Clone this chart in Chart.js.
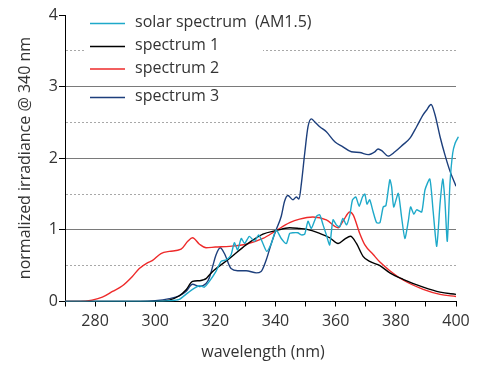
<!DOCTYPE html>
<html>
<head>
<meta charset="utf-8">
<script src="https://cdn.jsdelivr.net/npm/chart.js@4/dist/chart.umd.min.js"></script>
<style>
  body { margin: 0; background: #fff; }
  #wrap { width: 484px; height: 365px; }
</style>
</head>
<body>
<div id="wrap"><canvas id="spectraChart"></canvas></div>
<script>
// solar spectrum (AM1.5)
const solarNm = [270, 290, 300, 305, 308, 310.2, 312.4, 314.7, 316.3, 318, 320.2, 321.9, 323.6, 325.2, 326.3, 327.4, 328.6, 329.7, 331.3, 333, 334.4, 335.8, 337.1, 338.6, 340.2, 341.9, 343.6, 344.7, 345.8, 347.4, 348.6, 349.7, 350.8, 351.9, 353.6, 354.7, 355.8, 356.9, 358, 359.1, 360.2, 361.3, 362.4, 363.6, 364.7, 365.6, 366.7, 367.8, 368.9, 369.7, 370.4, 371.3, 372.4, 373.6, 374.7, 375.8, 376.7, 378, 378.6, 379.3, 380.8, 381.9, 383, 384.1, 384.9, 386, 386.9, 388.6, 389.7, 391.3, 392.4, 393.6, 394.7, 395.6, 396.3, 397.1, 398, 398.9, 399.7, 400.8];
const solarVal = [0, 0, 0, 0.01, 0.03, 0.10, 0.17, 0.22, 0.20, 0.28, 0.42, 0.56, 0.58, 0.65, 0.82, 0.72, 0.88, 0.81, 0.91, 0.84, 0.93, 0.81, 0.70, 0.81, 1.0, 0.88, 0.81, 0.95, 0.96, 0.96, 0.93, 0.94, 1.12, 1.02, 1.19, 1.21, 1.07, 0.93, 0.79, 1.14, 1.07, 1.04, 1.16, 1.07, 1.21, 1.42, 1.46, 1.33, 1.46, 1.50, 1.36, 1.42, 1.26, 1.10, 1.10, 1.32, 1.34, 1.70, 1.60, 1.32, 1.51, 1.18, 0.88, 1.11, 1.32, 1.22, 1.28, 1.25, 1.56, 1.71, 1.26, 0.77, 1.37, 1.71, 1.42, 0.84, 1.65, 2.07, 2.21, 2.30];

// spectrum 1
const spec1Nm = [270, 300, 304.7, 308, 310.2, 312.4, 314.7, 315.8, 316.9, 318, 319.1, 324.7, 330.2, 335.8, 340.2, 344.7, 348, 350.2, 354.7, 358, 360.8, 363, 364.9, 366.9, 369.1, 371.3, 374.7, 378, 382.4, 389.1, 394.7, 400];
const spec1Val = [0, 0, 0.02, 0.08, 0.16, 0.28, 0.29, 0.30, 0.32, 0.37, 0.42, 0.60, 0.79, 0.94, 0.99, 1.03, 1.02, 1.01, 0.95, 0.89, 0.81, 0.87, 0.91, 0.81, 0.63, 0.56, 0.50, 0.40, 0.31, 0.20, 0.13, 0.10];

// spectrum 2
const spec2Nm = [270, 275, 279, 282.4, 285.8, 289.1, 292.4, 294.7, 297.4, 299, 301.9, 304.7, 308.6, 310.8, 312.4, 314.7, 316.9, 320, 324.7, 330.2, 335.8, 340.2, 344.7, 348, 352.4, 356.9, 360.8, 362.4, 364.7, 365.8, 368, 369.7, 372.4, 374.7, 378, 382.4, 389.1, 394.7, 400];
const spec2Val = [0, 0, 0.02, 0.06, 0.14, 0.22, 0.35, 0.46, 0.54, 0.57, 0.67, 0.70, 0.73, 0.84, 0.89, 0.80, 0.75, 0.76, 0.77, 0.80, 0.88, 0.99, 1.10, 1.15, 1.18, 1.14, 1.03, 1.12, 1.25, 1.21, 0.95, 0.79, 0.66, 0.55, 0.43, 0.30, 0.17, 0.10, 0.07];

// spectrum 3
const spec3Nm = [270, 295, 300, 304.7, 308, 310.2, 312.4, 314.7, 316.9, 318, 319.1, 320.2, 321.6, 323, 325.2, 327.4, 330.2, 333.6, 335.2, 336.9, 338.6, 340.2, 341.9, 343, 344.1, 345.8, 346.9, 347.8, 348.6, 349.7, 350.8, 351.9, 353, 354.7, 356.9, 359.7, 362.4, 365.2, 368, 370.8, 373, 374.1, 375.5, 377.4, 379.7, 382.4, 384.7, 386.9, 389.1, 390.2, 391.7, 393, 394.7, 396.3, 398, 400];
const spec3Val = [0, 0, 0.01, 0.04, 0.08, 0.14, 0.24, 0.21, 0.25, 0.33, 0.49, 0.65, 0.75, 0.67, 0.46, 0.43, 0.43, 0.40, 0.42, 0.58, 0.81, 1.0, 1.19, 1.40, 1.48, 1.42, 1.46, 1.43, 1.65, 2.07, 2.44, 2.55, 2.51, 2.44, 2.37, 2.23, 2.16, 2.09, 2.08, 2.05, 2.09, 2.13, 2.10, 2.03, 2.09, 2.19, 2.28, 2.44, 2.61, 2.67, 2.75, 2.61, 2.30, 2.05, 1.82, 1.61];

const legendLabels = ['solar spectrum  (AM1.5)', 'spectrum 1', 'spectrum 2', 'spectrum 3'];
const seriesColors = ['#1ea9c9', '#000000', '#ee2a2a', '#1d3f7c'];

const FONT = "'Open Sans', 'Noto Sans', sans-serif";

function toPoints(xs, ys) {
    return xs.map((x, i) => ({ x: x, y: ys[i] }));
}

// legend + axis titles drawn on top
const overlayPlugin = {
    id: 'overlay',
    afterDraw(chart) {
        const ctx = chart.ctx;
        ctx.save();
        // legend box hides the dotted grid line behind it
        ctx.fillStyle = '#fff';
        ctx.fillRect(84, 40, 179, 15);

        const rowsY = [23.5, 46.5, 69, 97.5];
        ctx.font = '16px ' + FONT;
        ctx.textBaseline = 'middle';
        legendLabels.forEach((label, i) => {
            ctx.strokeStyle = seriesColors[i];
            ctx.lineWidth = 1.3;
            ctx.beginPath();
            ctx.moveTo(90, rowsY[i]);
            ctx.lineTo(125, rowsY[i]);
            ctx.stroke();
            ctx.fillStyle = '#333';
            ctx.textAlign = 'left';
            ctx.fillText(label, 135, rowsY[i] - 1);
        });

        // axis titles
        ctx.fillStyle = '#333';
        ctx.textAlign = 'center';
        ctx.fillText('wavelength (nm)', 263, 352);
        ctx.translate(25, 158);
        ctx.rotate(-Math.PI / 2);
        ctx.fillText('normalized irradiance @ 340 nm', 0, 0);
        ctx.restore();
    }
};

const ctx = document.getElementById('spectraChart').getContext('2d');

new Chart(ctx, {
    type: 'line',
    data: {
        datasets: [
            { label: legendLabels[0], data: toPoints(solarNm, solarVal), borderColor: seriesColors[0], tension: 0.2, clip: { left: 0, top: 0, right: 6, bottom: 0 } },
            { label: legendLabels[1], data: toPoints(spec1Nm, spec1Val), borderColor: seriesColors[1], cubicInterpolationMode: 'monotone' },
            { label: legendLabels[2], data: toPoints(spec2Nm, spec2Val), borderColor: seriesColors[2], cubicInterpolationMode: 'monotone' },
            { label: legendLabels[3], data: toPoints(spec3Nm, spec3Val), borderColor: seriesColors[3], cubicInterpolationMode: 'monotone' }
        ]
    },
    options: {
        responsive: true,
        maintainAspectRatio: false,
        animation: false,
        elements: {
            point: { radius: 0 },
            line: { borderWidth: 1.4, fill: false }
        },
        layout: { padding: { left: 0, right: 28, top: 15, bottom: 0 } },
        plugins: {
            legend: { display: false },
            tooltip: { enabled: false }
        },
        scales: {
            x: {
                type: 'linear',
                min: 270,
                max: 400,
                afterFit: (scale) => { scale.height = 63.5; },
                ticks: {
                    stepSize: 10,
                    autoSkip: false,
                    maxRotation: 0,
                    padding: 5,
                    color: '#333',
                    font: { family: FONT, size: 16 },
                    callback: (v) => (v % 20 === 0 ? String(v) : '')
                },
                grid: {
                    drawOnChartArea: false,
                    tickLength: 5,
                    tickColor: '#000'
                },
                border: { color: '#000', width: 1 }
            },
            y: {
                min: 0,
                max: 4,
                afterFit: (scale) => { scale.width = 65; },
                ticks: {
                    stepSize: 0.5,
                    autoSkip: false,
                    padding: 1,
                    color: '#333',
                    font: { family: FONT, size: 16 },
                    callback: (v) => (v % 1 === 0 ? String(v) : '')
                },
                grid: {
                    tickLength: 6,
                    color: (c) => {
                        const v = c.tick ? c.tick.value : 0;
                        if (v === 0 || v === 4) return 'rgba(0,0,0,0)';
                        return v % 1 === 0 ? '#7a7a7a' : '#a8a8a8';
                    },
                    tickColor: (c) => (c.tick && c.tick.value % 1 === 0 ? '#000' : 'rgba(0,0,0,0)')
                },
                border: {
                    color: '#000',
                    width: 1,
                    dash: (c) => (c.tick && c.tick.value % 1 !== 0 ? [2, 2] : [])
                }
            }
        }
    },
    plugins: [overlayPlugin]
});
</script>
</body>
</html>
